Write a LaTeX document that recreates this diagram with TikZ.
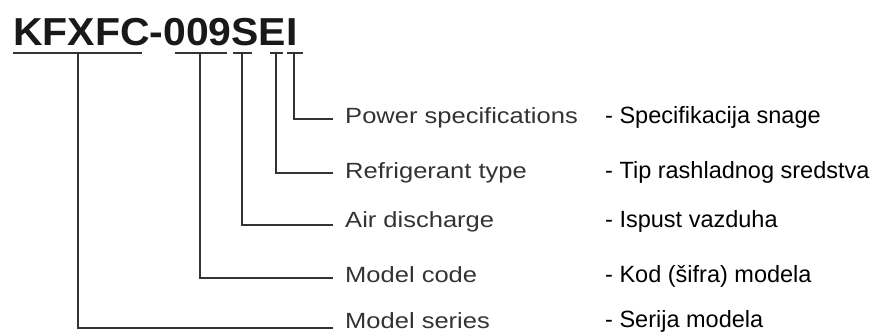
\documentclass[tikz,border=0pt]{standalone}
\usepackage{fontspec}
\setmainfont{Liberation Sans}
\begin{document}
\begin{tikzpicture}[x=1pt,y=-1pt,
  conn/.style={draw=black!80,line width=1.1pt},
  leftlab/.style={anchor=base west,inner sep=0pt,text=black!80,font=\fontsize{22}{24}\selectfont,xscale=1.16},
  rightlab/.style={anchor=base west,inner sep=0pt,text=black,font=\fontsize{23.5}{26}\selectfont},
  titlestyle/.style={anchor=base west,inner sep=0pt,text=black!90,font=\fontsize{39}{42}\selectfont\bfseries,xscale=1.05}]
\useasboundingbox (0,0) rectangle (874,333);
\node[titlestyle] (title) at (13,45) {KFXFC-009SEI};
% underlines
\draw[conn] (13,53) -- (142,53);
\draw[conn] (175,53) -- (227,53);
\draw[conn] (233,53) -- (252,53);
\draw[conn] (270,53) -- (283,53);
\draw[conn] (287,53) -- (303,53);
% tap points
\coordinate (tKF) at (78,53);
\coordinate (t009) at (200,53);
\coordinate (tS) at (242,53);
\coordinate (tE) at (276,53);
\coordinate (tI) at (294,53);
% line ends
\coordinate (ePow) at (333,119);
\coordinate (eRef) at (333,173);
\coordinate (eAir) at (333,225);
\coordinate (eCod) at (333,278);
\coordinate (eSer) at (333,328);
% left labels
\node[leftlab] (lPow) at (345,123) {Power specifications};
\node[leftlab] (lRef) at (345,178) {Refrigerant type};
\node[leftlab] (lAir) at (345,227) {Air discharge};
\node[leftlab] (lCod) at (345,282) {Model code};
\node[leftlab] (lSer) at (345,328) {Model series};
% right labels
\node[rightlab] (rPow) at (605,123) {- Specifikacija snage};
\node[rightlab] (rRef) at (605,178) {- Tip rashladnog sredstva};
\node[rightlab] (rAir) at (605,227) {- Ispust vazduha};
\node[rightlab] (rCod) at (605,282) {- Kod (šifra) modela};
\node[rightlab] (rSer) at (605,327) {- Serija modela};
% connectors
\draw[conn] (tI) |- (ePow);
\draw[conn] (tE) |- (eRef);
\draw[conn] (tS) |- (eAir);
\draw[conn] (t009) |- (eCod);
\draw[conn] (tKF) |- (eSer);
\end{tikzpicture}
\end{document}
